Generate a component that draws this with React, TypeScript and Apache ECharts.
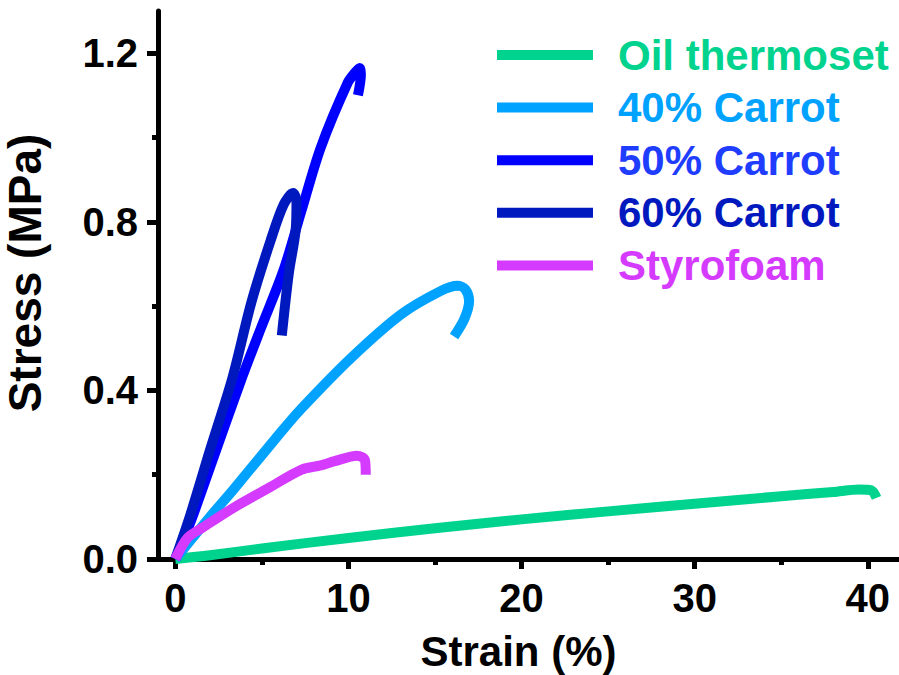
import React, { useEffect, useRef } from "react";
import * as echarts from "echarts";

// ---- data ----
const seriesNames = ["Oil thermoset", "40% Carrot", "50% Carrot", "60% Carrot", "Styrofoam"];
const seriesColors = ["#00D38D", "#00A2FF", "#0000FF", "#0019BF", "#D53BFF"];
const legendTextColors = ["#00D38D", "#00A2FF", "#1F3DFF", "#0019BF", "#D53BFF"];

const oilX = [0, 2, 5, 10, 15, 20, 25, 30, 35, 38, 39.5, 40.2, 40.5];
const oilY = [0, 0.009, 0.025, 0.05, 0.073, 0.094, 0.113, 0.131, 0.149, 0.159, 0.165, 0.163, 0.145];

const c40X = [0, 2, 3.36, 6.08, 7.24, 10.13, 13.03, 15.34, 16.3, 16.75, 16.97, 16.7, 16.1];
const c40Y = [0, 0.1, 0.165, 0.3, 0.355, 0.476, 0.58, 0.636, 0.648, 0.64, 0.612, 0.57, 0.528];

const c50X = [0, 0.9, 2.2, 3.76, 4.92, 6.25, 7.24, 8.4, 9.96, 10.4, 10.65, 10.72, 10.55];
const c50Y = [0, 0.09, 0.24, 0.42, 0.545, 0.685, 0.82, 0.976, 1.13, 1.155, 1.165, 1.15, 1.1];

const c60X = [0, 0.87, 2.03, 3.3, 4.4, 5.5, 6.25, 6.8, 7.0, 6.95, 6.55, 6.15];
const c60Y = [0, 0.105, 0.262, 0.43, 0.61, 0.755, 0.84, 0.868, 0.85, 0.78, 0.676, 0.53];

const styroX = [0, 0.7, 1.6, 3.3, 5.5, 7.3, 8.4, 9.2, 10.5, 10.95, 11.0];
const styroY = [0, 0.05, 0.075, 0.12, 0.171, 0.212, 0.222, 0.232, 0.245, 0.235, 0.2];

const xMajorTicks = [0, 10, 20, 30, 40];
const xMinorTicks = [5, 15, 25, 35];
const yMajorTicks = [0, 0.4, 0.8, 1.2];
const yMinorTicks = [0.2, 0.6, 1.0];

const seriesX = [oilX, c40X, c50X, c60X, styroX];
const seriesY = [oilY, c40Y, c50Y, c60Y, styroY];

const FONT = "'Liberation Sans', Arial, Helvetica, sans-serif";

export default function App() {
  const ref = useRef<HTMLDivElement>(null);

  useEffect(() => {
    document.body.style.margin = "0";
    if (!ref.current) return;
    const chart = echarts.init(ref.current, undefined, { renderer: "svg" });

    const xBase = {
      type: "value" as const,
      min: -1,
      max: 41.8,
      position: "bottom" as const,
      splitLine: { show: false },
    };
    const yBase = {
      type: "value" as const,
      min: 0,
      max: 1.3,
      position: "left" as const,
      splitLine: { show: false },
    };
    const tickStyle = { color: "#000", width: 5 };

    chart.setOption({
      animation: false,
      backgroundColor: "#ffffff",
      grid: { left: 158, right: 0, top: 11, bottom: 116, containLabel: false, outerBoundsMode: "none" },
      xAxis: [
        {
          ...xBase,
          axisLine: { show: true, onZero: false, lineStyle: { color: "#000", width: 5 } },
          axisTick: { show: true, inside: false, length: 10, lineStyle: tickStyle, customValues: xMajorTicks },
          axisLabel: {
            show: true,
            customValues: xMajorTicks,
            margin: 19,
            fontSize: 40,
            fontWeight: "bold",
            fontFamily: FONT,
            color: "#000",
          },
          name: "Strain (%)",
          nameLocation: "middle",
          nameGap: 71,
          nameTextStyle: {
            fontSize: 42,
            lineHeight: 42,
            fontWeight: "bold",
            fontFamily: FONT,
            color: "#000",
            padding: [0, 20, 0, 0],
          },
        },
        {
          ...xBase,
          axisLine: { show: false, onZero: false },
          axisTick: { show: true, inside: false, length: 6, lineStyle: tickStyle, customValues: xMinorTicks },
          axisLabel: { show: false },
        },
      ],
      yAxis: [
        {
          ...yBase,
          axisLine: { show: true, onZero: false, lineStyle: { color: "#000", width: 5 } },
          axisTick: { show: true, inside: false, length: 11, lineStyle: tickStyle, customValues: yMajorTicks },
          axisLabel: {
            show: true,
            customValues: yMajorTicks,
            margin: 20,
            fontSize: 40,
            fontWeight: "bold",
            fontFamily: FONT,
            color: "#000",
            formatter: (v: number) => v.toFixed(1),
          },
          name: "Stress (MPa)",
          nameLocation: "middle",
          nameGap: 110,
          nameRotate: 90,
          nameTextStyle: { fontSize: 46, fontWeight: "bold", fontFamily: FONT, color: "#000", padding: [0, 0, 0, 24] },
        },
        {
          ...yBase,
          axisLine: { show: false, onZero: false },
          axisTick: { show: true, inside: false, length: 6, lineStyle: tickStyle, customValues: yMinorTicks },
          axisLabel: { show: false },
        },
      ],
      legend: {
        show: true,
        orient: "vertical",
        left: 497,
        top: 34,
        padding: 0,
        itemGap: 10.6,
        itemWidth: 96,
        itemHeight: 10,
        icon: "rect",
        selectedMode: false,
        textStyle: {
          fontSize: 42,
          fontWeight: "bold",
          fontFamily: FONT,
          lineHeight: 42,
          padding: [0, 0, 0, 20],
        },
        data: seriesNames.map((n, i) => ({ name: n, icon: "rect", textStyle: { color: legendTextColors[i] } })),
      },
      series: seriesNames.map((n, i) => ({
        name: n,
        type: "line",
        xAxisIndex: 0,
        yAxisIndex: 0,
        data: seriesX[i].map((x, j) => [x, seriesY[i][j]]),
        showSymbol: false,
        symbol: "none",
        smooth: 0.3,
        color: seriesColors[i],
        lineStyle: { color: seriesColors[i], width: 10, cap: "butt", join: "round" },
      })),
    });

    return () => chart.dispose();
  }, []);

  return <div ref={ref} style={{ position: "absolute", left: 0, top: 0, width: 899, height: 675 }} />;
}
